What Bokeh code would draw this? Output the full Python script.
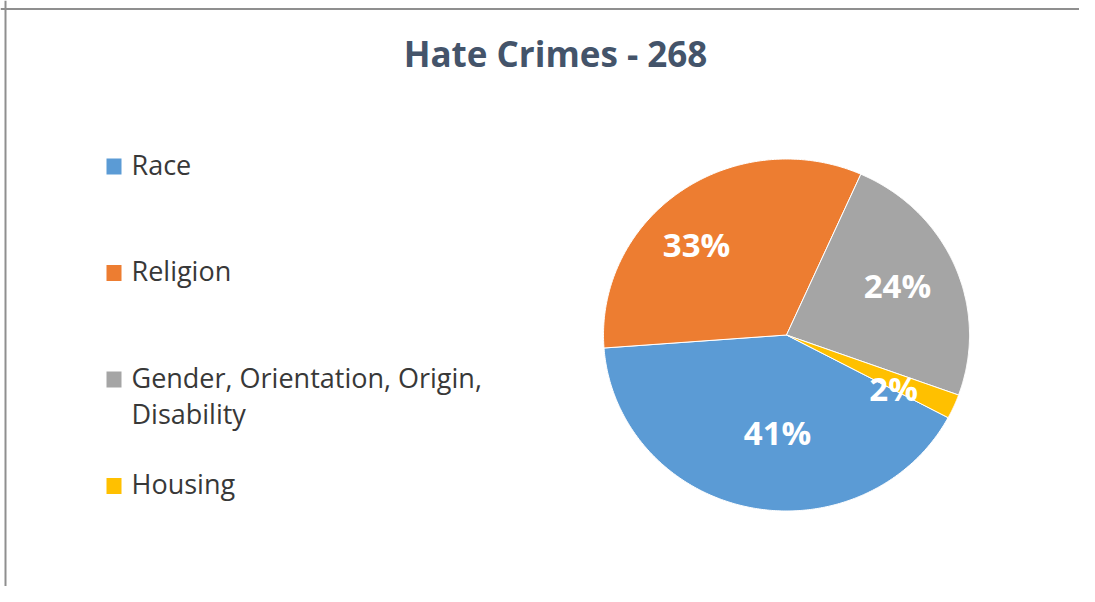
import numpy as np
from bokeh.plotting import figure
from bokeh.models import Range1d, Span
from bokeh.embed import file_html
from bokeh.resources import INLINE
from bokeh.core.properties import value

# ---- data ----
categories = ["Race", "Religion", "Gender, Orientation, Origin,\nDisability", "Housing"]
counts = [110, 88, 64, 6]
colors = ["#5B9BD5", "#ED7D31", "#A5A5A5", "#FFC000"]
title_text = "Hate Crimes - %d" % sum(counts)

# ---- layout constants ----
W, H = 1079, 586
CX, CY = 786.0, 251.5          # pie centre (data = canvas pixels, y up)
RX, RY = 183.0, 176.0          # pie radii
START = 118.0                  # first slice start, degrees clockwise from 12 o'clock
LABEL_FRAC = [0.567, 0.705, 0.664, 0.663]
LABEL_SHIFT = [-6.9, -9.1, -1.0, 4.1]
FONT = value("Open Sans")

p = figure(width=W, height=H, x_range=Range1d(0, W), y_range=Range1d(0, H),
           output_backend="svg", toolbar_location=None, min_border=0,
           x_axis_location=None, y_axis_location=None)
p.xgrid.visible = False
p.ygrid.visible = False
p.outline_line_color = None
p.background_fill_color = "white"
p.border_fill_color = "white"

# chart-area border (top and left visible)
p.add_layout(Span(location=577.5, dimension="width", line_color="#8f8f8f", line_width=2))
p.add_layout(Span(location=5, dimension="height", line_color="#8f8f8f", line_width=2))

# ---- pie slices ----
total = float(sum(counts))
spans = np.array(counts) / total * 360.0
ends = START + np.cumsum(spans)
starts = ends - spans
xs, ys = [], []
for s, e in zip(starts, ends):
    t = np.radians(np.linspace(s, e, 240))
    xs.append([CX] + list(CX + RX * np.sin(t)))
    ys.append([CY] + list(CY + RY * np.cos(t)))
p.patches(xs, ys, fill_color=colors, line_color="white", line_width=1)

# ---- percentage labels ----
pct = ["%d%%" % round(c / total * 100) for c in counts]
mid = np.radians((starts + ends) / 2 + np.array(LABEL_SHIFT))
frac = np.array(LABEL_FRAC)
lx = CX + frac * RX * np.sin(mid)
ly = CY + frac * RY * np.cos(mid) - 11.75 + 13.5
p.text(lx, ly, text=pct, text_font=FONT, text_font_style="bold", text_font_size="33px",
       text_color="white", text_align="center", text_baseline="alphabetic")

# ---- title ----
p.text([555], [519 + 14.5], text=[title_text], text_font=FONT, text_font_style="bold",
       text_font_size="35px", text_color="#44546A", text_align="center",
       text_baseline="alphabetic")

# ---- legend ----
LEG_SQ_X, LEG_TXT_X, LEG_Y0, LEG_STEP = 113.5, 131.0, 420.0, 106.5
sq_y = [LEG_Y0 - i * LEG_STEP for i in range(len(categories))]
p.rect(x=[LEG_SQ_X] * len(categories), y=sq_y, width=15, height=16,
       width_units="screen", height_units="screen", fill_color=colors, line_color=None)
tx, ty, tt = [], [], []
for yc, cat in zip(sq_y, categories):
    for j, line in enumerate(cat.split("\n")):
        tx.append(LEG_TXT_X)
        ty.append(yc - 8 - j * 36 + 10.5)
        tt.append(line)
p.text(tx, ty, text=tt, text_font=FONT, text_font_size="27px", text_color="#383838",
       text_align="left", text_baseline="alphabetic")

open("out.html", "w").write(file_html(p, INLINE, title="Hate Crimes"))
